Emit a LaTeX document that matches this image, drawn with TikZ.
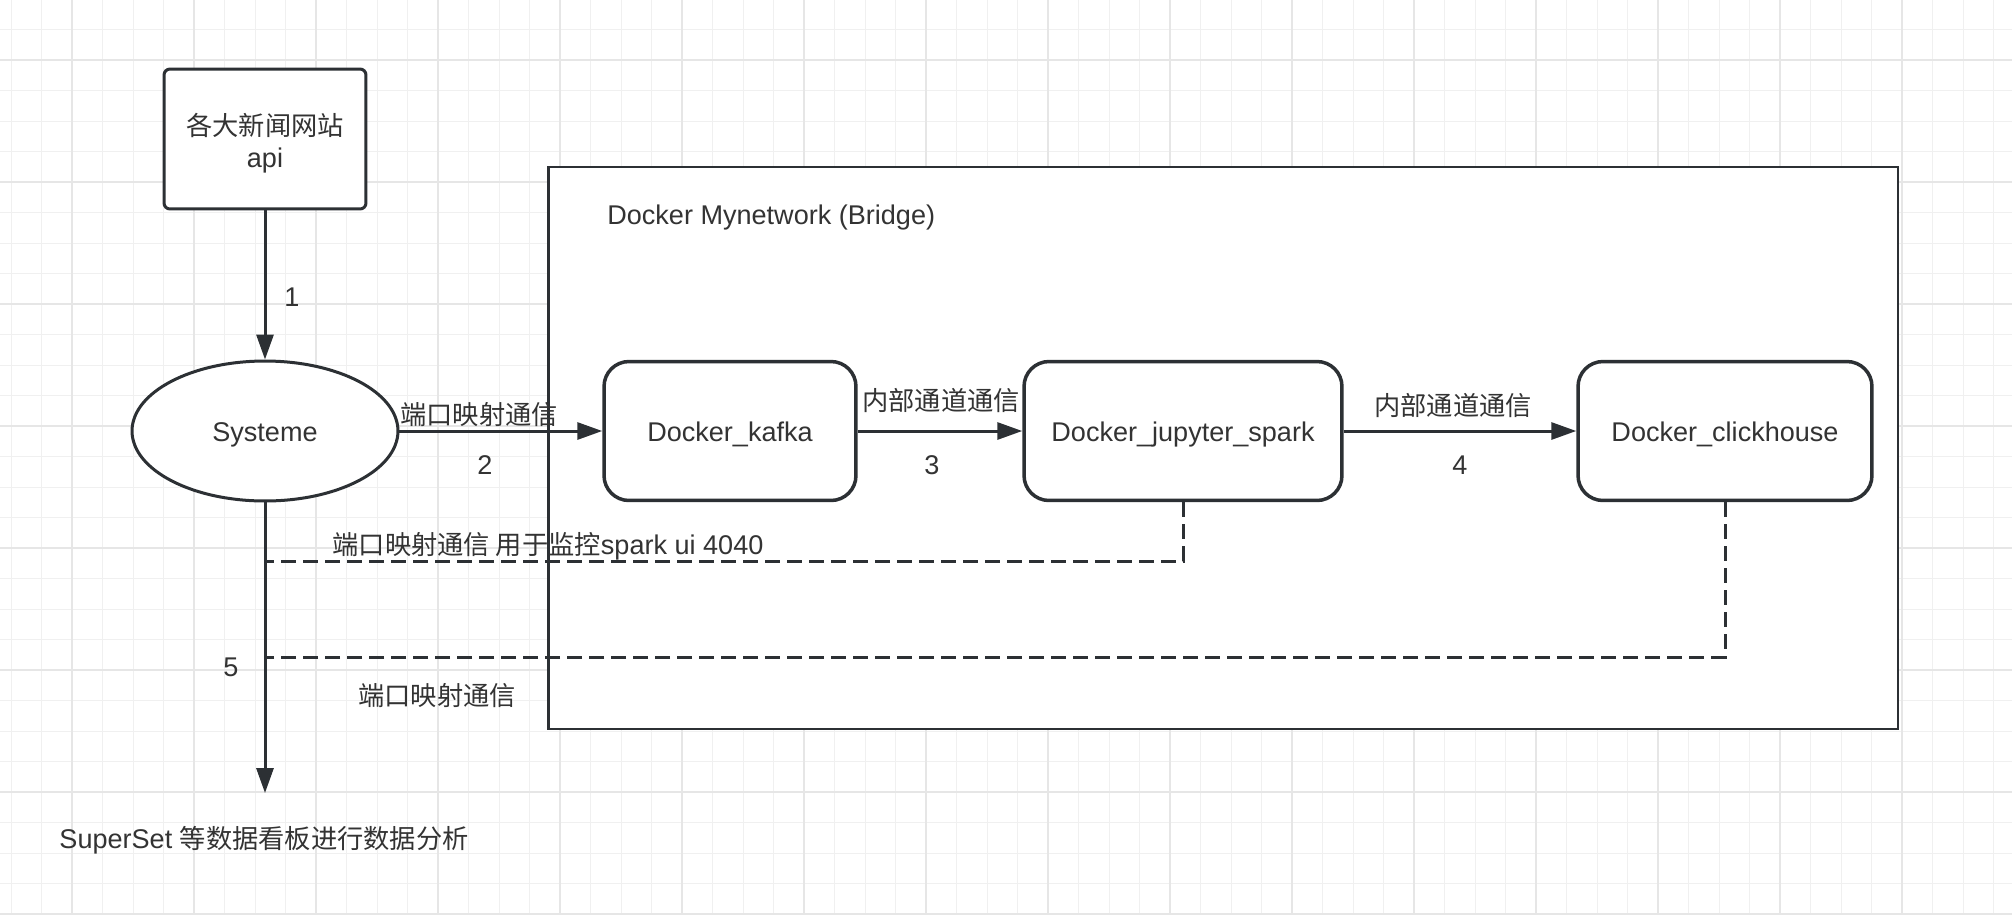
\documentclass[tikz,border=0pt]{standalone}
\usepackage{fontspec}
\setmainfont{Liberation Sans}
\newfontfamily\cjk[Scale=0.97]{Noto Sans CJK SC}
\usepackage{tikz}
\usetikzlibrary{shapes.geometric,arrows.meta}
\definecolor{ink}{HTML}{333333}
\definecolor{edge}{HTML}{2C3034}
\definecolor{gridlo}{HTML}{F0F0F0}
\definecolor{gridhi}{HTML}{E6E6E6}

\begin{document}
\begin{tikzpicture}[x=0.02cm,y=-0.02cm,
	txt/.style={font=\fontsize{15.4}{18.2}\selectfont,text=ink,inner sep=0pt},
	lbl/.style={txt,text height=11.7pt,text depth=0pt},
	svc/.style={lbl,draw=edge,fill=white,line width=0.07cm,rounded corners=0.5cm,minimum height=2.78cm},
	link/.style={edge,line width=0.06cm,-{Triangle[length=0.5cm,width=0.34cm]}},
	tap/.style={edge,line width=0.06cm,dash pattern=on 0.3cm off 0.14cm}]
	\useasboundingbox (0,0) rectangle (2012,914);
	\fill[white] (0,0) rectangle (2012,914);
	\foreach \gx in {11,41.5,...,2012} \draw[gridlo,line width=0.02cm] (\gx,0) -- (\gx,914);
	\foreach \gy in {29.5,60,...,914} \draw[gridlo,line width=0.02cm] (0,\gy) -- (2012,\gy);
	\foreach \gx in {72,194,...,2012} \draw[gridhi,line width=0.04cm] (\gx,0) -- (\gx,914);
	\foreach \gy in {60,182,...,914} \draw[gridhi,line width=0.04cm] (0,\gy) -- (2012,\gy);

	\node[draw=edge,fill=white,line width=0.055cm,minimum width=27cm,minimum height=11.24cm,inner sep=0pt] (net) at (1223,448) {};
	\node[lbl,anchor=west] (nettitle) at (607,214) {Docker Mynetwork (Bridge)};

	\node[txt,draw=edge,fill=white,line width=0.06cm,rounded corners=0.12cm,minimum width=4.04cm,minimum height=2.8cm,align=center,text height=1.15cm,text depth=0pt] (news) at (265,139) {{\cjk 各大新闻网站}\\api};
	\node[lbl,ellipse,draw=edge,fill=white,line width=0.06cm,minimum width=5.32cm,minimum height=2.8cm] (sys) at (265,431) {Systeme};
	\node[svc,minimum width=5.04cm] (kafka) at (730,431) {Docker\_kafka};
	\node[svc,minimum width=6.36cm] (spark) at (1183,431) {Docker\_jupyter\_spark};
	\node[svc,minimum width=5.88cm] (click) at (1725,431) {Docker\_clickhouse};

	\coordinate (taptop) at (265,561);
	\coordinate (tapbot) at (265,657);
	\coordinate (sink) at (265,793);

	\draw[link] (news) -- (sys);
	\draw[link] (sys) -- (kafka);
	\draw[link] (kafka) -- (spark);
	\draw[link] (spark) -- (click);
	\draw[tap] (spark.south) |- (taptop);
	\draw[tap] (click.south) |- (tapbot);
	\draw[link] (sys) -- (sink);

	\node[lbl] (l1) at (292,296) {1};
	\node[lbl] (l2top) at (479,414) {\cjk 端口映射通信};
	\node[lbl] (l2) at (485,464) {2};
	\node[lbl] (l3top) at (941,400) {\cjk 内部通道通信};
	\node[lbl] (l3) at (932,464) {3};
	\node[lbl] (l4top) at (1453,405) {\cjk 内部通道通信};
	\node[lbl] (l4) at (1460,464) {4};
	\node[lbl] (l5) at (231,666) {5};
	\node[lbl] (taptoptxt) at (548,544) {{\cjk 端口映射通信 用于监控}spark ui 4040};
	\node[lbl] (tapbottxt) at (437,695) {\cjk 端口映射通信};
	\node[lbl] (board) at (264,838) {SuperSet {\cjk 等数据看板进行数据分析}};
\end{tikzpicture}
\end{document}
